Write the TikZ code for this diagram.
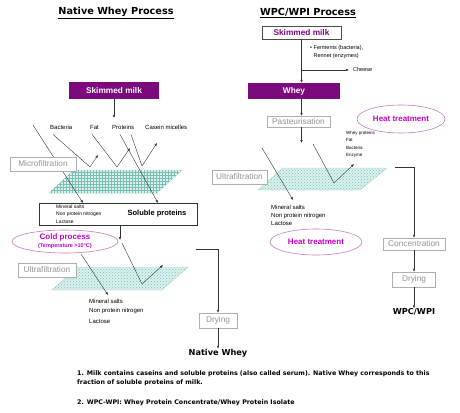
\documentclass[tikz,border=0pt]{standalone}
\usepackage{fontspec}
\setmainfont{Liberation Sans}
\newfontfamily\headfont{DejaVu Sans}
\usetikzlibrary{arrows.meta,shapes.geometric,patterns}

\definecolor{wheypurple}{RGB}{125,10,125}
\definecolor{ovalline}{RGB}{195,125,195}
\definecolor{ovaltext}{RGB}{200,0,200}
\definecolor{boxgrey}{RGB}{175,175,175}
\definecolor{meshfill}{RGB}{218,242,238}
\definecolor{meshline}{RGB}{125,190,180}

\tikzset{
	purplebox/.style={rectangle, fill=wheypurple, text=white, inner sep=0pt, font=\bfseries\fontsize{8.3}{9}\selectfont},
	greybox/.style={rectangle, draw=boxgrey, fill=white, text=boxgrey!85!black, inner sep=0pt, font=\fontsize{8.3}{9}\selectfont},
	heatoval/.style={ellipse, draw=ovalline, line width=0.6pt, text=ovaltext, inner sep=0pt, align=center, font=\bfseries\fontsize{8}{9}\selectfont},
	lbl/.style={inner sep=0pt, align=left, font=\fontsize{6}{7.5}\selectfont},
	headline/.style={inner sep=0pt, font=\headfont\bfseries\fontsize{8.2}{9}\selectfont},
	flow/.style={draw=black!80, -{Latex[length=3pt,width=2.4pt]}},
	membrane/.style={fill=meshfill, draw=meshline!60, postaction={pattern=#1, pattern color=meshline}},
	membrane/.default=grid,
}

\begin{document}
\begin{tikzpicture}[x=1pt,y=-1pt]
			\useasboundingbox (0,0) rectangle (460,412);
			
			% Titles
			\node[headline, font=\headfont\bfseries\fontsize{9.7}{11}\selectfont] (nativeTitle) at (116,13) {\underline{Native Whey Process}};
			\node[headline, font=\headfont\bfseries\fontsize{9.7}{11}\selectfont] (wpcTitle) at (308,13) {\underline{WPC/WPI Process}};
			
			% Membranes (filters)
			\draw[membrane] (49,193) -- (157,193) -- (182,170) -- (74,170) -- cycle;
			\draw[membrane=crosshatch dots] (52,290) -- (162,290) -- (188,267) -- (78,267) -- cycle;
			\draw[membrane=crosshatch dots] (258,190) -- (360,190) -- (387,168) -- (283,168) -- cycle;
			
			% Native whey: skimmed milk and its components
			\node[purplebox, minimum width=90pt, minimum height=17pt] (skimL) at (114,90.5) {Skimmed milk};
			\coordinate (skimLtip) at (114,118);
			\draw[flow] (skimL) -- (skimLtip);
			\node[lbl, anchor=west] (bact) at (50,127) {Bacteria};
			\node[lbl, anchor=west] (fat) at (90,127) {Fat};
			\node[lbl, anchor=west] (prot) at (112,127) {Proteins};
			\node[lbl, anchor=west] (casein) at (145,127) {Casein micelles};
			
			% Microfiltration: what goes through, what is held back
			\coordinate (minA) at (33,125);
			\coordinate (minAtip) at (83,203);
			\coordinate (protTip) at (158,203);
			\coordinate (bactHit) at (90,167);
			\coordinate (bactTip) at (98,155);
			\coordinate (fatHit) at (117,167);
			\coordinate (fatTip) at (130,148);
			\coordinate (casHit) at (142,166);
			\coordinate (casTip) at (157,143);
			\draw[flow] (minA) -- (minAtip);
			\draw[flow] (prot.south west) ++(8,5) -- (protTip);
			\draw[flow] (bact.south west) ++(3,5) -- (bactHit) -- (bactTip);
			\draw[flow] (fat.south west) ++(2,5) -- (fatHit) -- (fatTip);
			\draw[flow] (prot.south west) ++(19,5) -- (casHit) -- (casTip);
			\node[greybox, minimum width=66pt, minimum height=14pt] (micro) at (43,164) {Microfiltration};
			
			% Permeate of the microfiltration
			\node[rectangle, draw=black!80, fill=white, minimum width=158pt, minimum height=22pt] (soluble) at (118,214) {};
			\node[lbl, font=\fontsize{5}{7.5}\selectfont, anchor=north west] (solMin) at (56,204.5) {Mineral salts\\Non protein nitrogen\\Lactose};
			\node[inner sep=0pt, font=\bfseries\fontsize{7.5}{8}\selectfont] (solProt) at (157,214) {Soluble proteins};
			
			% Ultrafiltration of the soluble proteins
			\node[heatoval, minimum width=106pt, minimum height=23pt] (cold) at (65,241.5) {Cold process\\[-1pt]{\fontsize{5.5}{6}\selectfont(Temperature >10°C)}};
			\coordinate (solTip) at (120,240);
			\coordinate (solStart) at (122,243);
			\coordinate (solHit) at (142,284);
			\coordinate (solBack) at (163,265);
			\coordinate (minB) at (81,254);
			\coordinate (minBtip) at (108,295);
			\draw[flow] (soluble.south -| solTip) -- (solTip);
			\draw[flow] (solStart) -- (solHit) -- (solBack);
			\draw[flow] (minB) -- (minBtip);
			\node[greybox, minimum width=58pt, minimum height=14pt] (ultraL) at (47,270) {Ultrafiltration};
			\node[lbl, font=\fontsize{6}{9}\selectfont, anchor=north west] (minBtxt) at (89,298.5) {Mineral salts\\Non protein nitrogen\\[2pt]Lactose};
			
			% Drying of the retentate
			\coordinate (nativeOut) at (196,249);
			\node[greybox, minimum width=38pt, minimum height=15pt] (dryL) at (218,320.5) {Drying};
			\node[headline] (nativeWhey) at (218,353) {Native Whey};
			\draw[flow] (nativeOut) -| (dryL.north);
			\draw[flow] (dryL) -- (nativeWhey);
			
			% WPC/WPI: cheese making
			\node[rectangle, draw=black!70, fill=white, text=wheypurple, inner sep=0pt, font=\bfseries\fontsize{8.3}{9}\selectfont, minimum width=79pt, minimum height=13pt] (skimR) at (301.5,32.5) {Skimmed milk};
			\node[lbl, font=\fontsize{5.5}{8}\selectfont, anchor=north west] (ferm) at (310,45) {• Ferments (bacteria),\\\phantom{• }Rennet (enzymes)};
			\node[purplebox, minimum width=92pt, minimum height=16pt] (whey) at (294,91) {Whey};
			\node[lbl, font=\fontsize{5.5}{7}\selectfont, anchor=west] (cheese) at (353,70) {Cheese};
			\coordinate (cheeseFork) at (301.5,70);
			\draw[flow] (skimR) -- (skimR |- whey.north);
			\draw[flow, shorten >=4pt] (cheeseFork) -- (cheese.west);
			
			% Pasteurisation and ultrafiltration
			\node[greybox, minimum width=63pt, minimum height=11pt] (past) at (298.5,121.5) {Pasteurisation};
			\coordinate (pastTip) at (301.5,143);
			\draw[flow] (skimR |- whey.south) -- (skimR |- past.north);
			\draw[flow] (skimR |- past.south) -- (pastTip);
			\node[heatoval, minimum width=88pt, minimum height=28pt] (heatA) at (401,119) {Heat treatment};
			\node[lbl, font=\fontsize{4.5}{7.5}\selectfont, anchor=north west] (retTxt) at (346,131) {Whey proteins\\Fat\\Bacteria\\Enzyme};
			\coordinate (minC) at (262,148);
			\coordinate (minCtip) at (293,200);
			\coordinate (retStart) at (313,144);
			\coordinate (retHit) at (334,183);
			\coordinate (retTip) at (354,164);
			\draw[flow] (minC) -- (minCtip);
			\draw[flow] (retStart) -- (retHit) -- (retTip);
			\node[greybox, minimum width=55pt, minimum height=14pt] (ultraR) at (239.5,177) {Ultrafiltration};
			\node[lbl, font=\fontsize{6}{8}\selectfont, anchor=north west] (minCtxt) at (271,205) {Mineral salts\\Non protein nitrogen\\Lactose};
			\node[heatoval, minimum width=92pt, minimum height=26pt] (heatB) at (316,242) {Heat treatment};
			
			% Concentration and drying
			\coordinate (wpcOut) at (395,167);
			\node[greybox, minimum width=62pt, minimum height=12pt] (conc) at (414,244) {Concentration};
			\node[greybox, minimum width=43pt, minimum height=15pt] (dryR) at (414,279.5) {Drying};
			\node[headline] (wpc) at (414,312) {WPC/WPI};
			\draw[flow] (wpcOut) -| (conc.north);
			\draw[flow] (conc) -- (dryR);
			\draw[flow] (dryR) -- (wpc);
			
			% Notes
			\node[headline, font=\headfont\bfseries\fontsize{6.3}{9}\selectfont, anchor=north west, align=left] (note1) at (77,370.5) {1. Milk contains caseins and soluble proteins (also called serum). Native Whey corresponds to this\\fraction of soluble proteins of milk.};
			\node[headline, font=\headfont\bfseries\fontsize{6.3}{9}\selectfont, anchor=west] (note2) at (77,403) {2. WPC-WPI: Whey Protein Concentrate/Whey Protein Isolate};
		\end{tikzpicture}
\end{document}
